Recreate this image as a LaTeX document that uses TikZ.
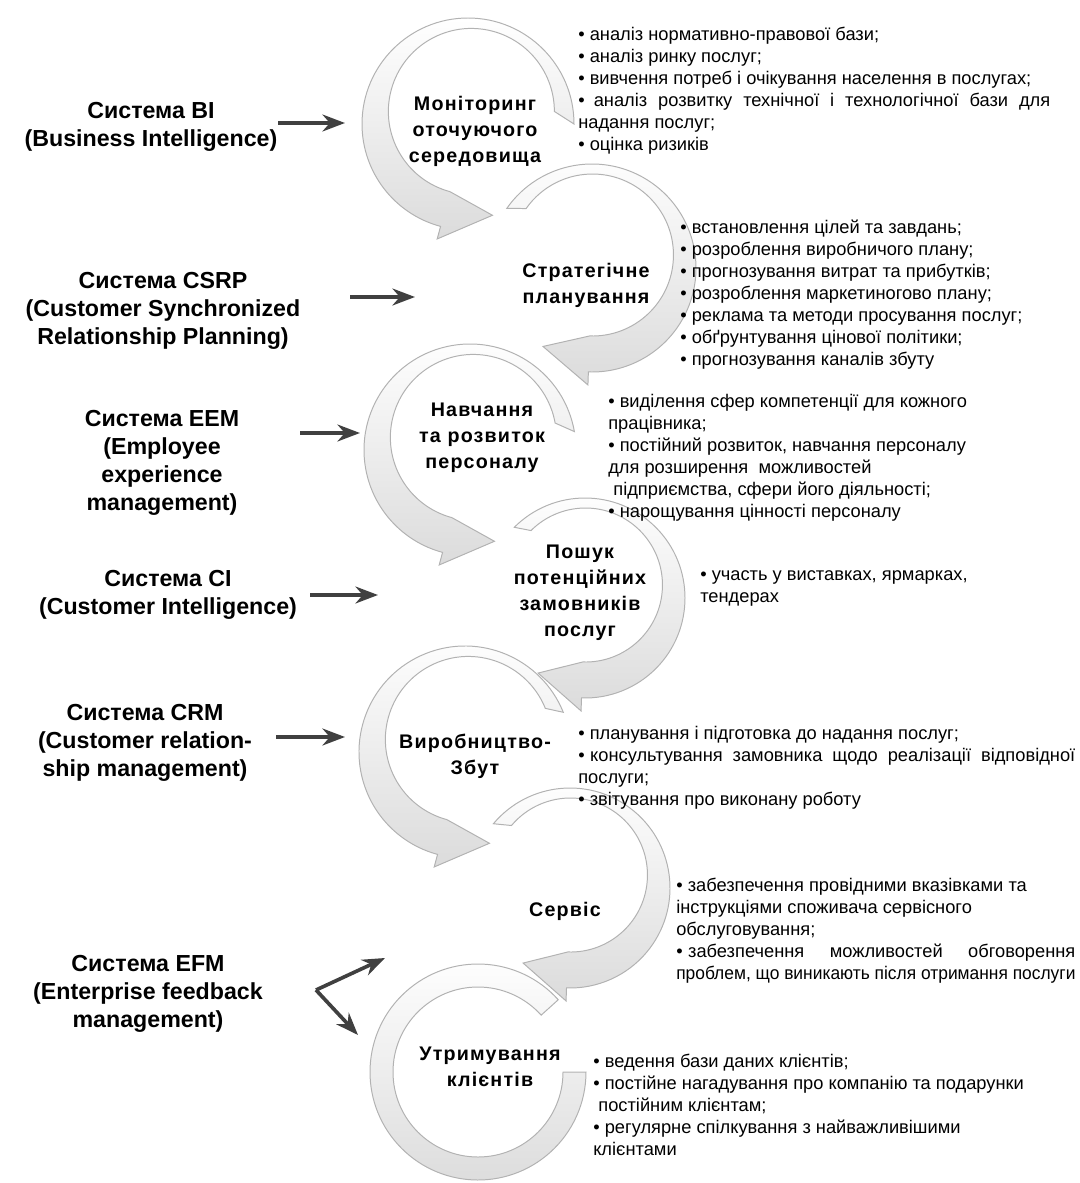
\documentclass[tikz,border=0pt]{standalone}
\usepackage{fontspec}
\setmainfont{Liberation Sans}
\newfontfamily\spacedfont[LetterSpace=6]{Liberation Sans}
\usetikzlibrary{positioning}
\usetikzlibrary{calc}
\usetikzlibrary{arrows.meta}

% curved stage arrow: centre, outer radius, inner radius, start, end, tip angle
\newcommand{\cyclearrow}[6]{%
  \path[ring] ($(#1)+(#4:#2)$) arc[start angle=#4, end angle=#5, radius=#2]
    -- ($(#1)+(#5:{#2+13})$) -- ($(#1)+(#6:{(#2+#3)/2})$) -- ($(#1)+(#5:{#3-13})$)
    arc[start angle=#5, end angle=#4, radius=#3] -- cycle;
}
\newcommand{\fitline}[2]{\makebox[#1][s]{#2}}
\newcommand{\squeezeline}[2]{\resizebox{#1}{\height}{#2}}

\begin{document}
\begin{tikzpicture}[x=0.025cm, y=0.025cm,
  system/.style={font=\bfseries\fontsize{16.5}{20}\selectfont, align=center, inner sep=0pt},
  stage/.style={font=\spacedfont\bfseries\fontsize{14}{18.5}\selectfont, align=center, inner sep=0pt},
  tasks/.style={font=\fontsize{13}{15.6}\selectfont, align=left, anchor=north west, inner sep=0pt},
  ring/.style={draw=gray!60, line width=0.7pt, top color=white, bottom color=gray!28},
  feed/.style={-{Stealth[length=16pt, width=12pt]}, line width=2.6pt, draw=black!75}]
  \useasboundingbox (0,0) rectangle (1079,-1183);
  % Centres
  \coordinate (c1) at (468,-124);
  \coordinate (c2) at (592,-268);
  \coordinate (c3) at (470,-450);
  \coordinate (c4) at (585,-598);
  \coordinate (c5) at (465,-752);
  \coordinate (c6) at (570,-888);
  \coordinate (c7) at (478,-1072);
  % Rings
  \cyclearrow{c1}{106}{83}{0}{255}{285}
  \cyclearrow{c2}{104}{81}{145}{-92}{-122}
  \cyclearrow{c3}{106}{83}{10}{255}{285}
  \cyclearrow{c4}{100}{77}{135}{-92}{-122}
  \cyclearrow{c5}{106}{83}{22}{255}{285}
  \cyclearrow{c6}{100}{77}{140}{-92}{-122}
  \path[ring] ($(c7)+(42:108)$) arc[start angle=42, end angle=360, radius=108]
    -- ($(c7)+(360:85)$) arc[start angle=360, end angle=42, radius=85] -- cycle;
  % Systems
  \node[system] (bi) at (151,-127) {Система BI\\(Business Intelligence)};
  \node[system] (csrp) at (163,-311) {Система CSRP\\(Customer Synchronized\\Relationship Planning)};
  \node[system] (eem) at (162,-463) {Система EEM\\(Employee\\experience\\management)};
  \node[system] (ci) at (168,-595) {Система CI\\(Customer Intelligence)};
  \node[system] (crm) at (145,-743) {Система CRM\\(Customer relation-\\ship management)};
  \node[system] (efm) at (148,-994) {Система EFM\\(Enterprise feedback\\management)};
  % Stages
  \node[stage] (monitor) at (475,-131) {Моніторинг\\оточуючого\\середовища};
  \node[stage] (plan) at (586,-285) {Стратегічне\\планування};
  \node[stage] (train) at (482,-438) {Навчання\\та розвиток\\персоналу};
  \node[stage] (search) at (580,-593) {Пошук\\потенційних\\замовників\\послуг};
  \node[stage] (sales) at (475,-756) {Виробництво-\\Збут};
  \node[stage] (service) at (565,-911) {Сервіс};
  \node[stage] (keep) at (490,-1067) {Утримування\\клієнтів};
  % Tasks
  \node[tasks] (monitor-tasks) at (578,-27) {• аналіз нормативно-правової бази;\\
    •\ аналіз ринку послуг;\\
    • вивчення потреб і очікування населення в послугах;\\
    \fitline{11.8cm}{•\hspace{0.5em}аналіз розвитку технічної і технологічної бази для}\\
    надання послуг;\\
    • оцінка ризиків};
  \node[tasks] (plan-tasks) at (680,-220) {• встановлення цілей та завдань;\\
    • розроблення виробничого плану;\\
    •\ прогнозування витрат та прибутків;\\
    • розроблення маркетиногово плану;\\
    • реклама та методи просування послуг;\\
    • обґрунтування цінової політики;\\
    • прогнозування каналів збуту};
  \node[tasks] (train-tasks) at (608,-394) {• виділення сфер компетенції для кожного\\
    працівника;\\
    • постійний розвиток, навчання персоналу\\
    для розширення\ \ можливостей\\
    \ підприємства, сфери його діяльності;\\
    • нарощування цінності персоналу};
  \node[tasks] (search-tasks) at (700,-570) {•\ участь у виставках, ярмарках,\\
    тендерах};
  \node[tasks] (sales-tasks) at (578,-726) {• планування і підготовка до надання послуг;\\
    \fitline{12.425cm}{•\hspace{0.3em}консультування замовника щодо реалізації відповідної}\\
    послуги;\\
    • звітування про виконану роботу};
  \node[tasks] (service-tasks) at (676,-878) {• забезпечення провідними вказівками та\\
    інструкціями споживача сервісного\\
    обслуговування;\\
    \fitline{9.975cm}{•\hspace{0.3em}забезпечення можливостей обговорення}\\
    \squeezeline{9.975cm}{проблем, що виникають після отримання послуги}};
  \node[tasks] (keep-tasks) at (593,-1054) {• ведення бази даних клієнтів;\\
    • постійне нагадування про компанію та подарунки\\
    \ постійним клієнтам;\\
    • регулярне спілкування з найважливішими\\
    клієнтами};
  % Arrows
  \coordinate (bi-out) at (278,-123);   \coordinate (bi-in) at (345,-123);
  \coordinate (csrp-out) at (350,-297); \coordinate (csrp-in) at (415,-297);
  \coordinate (eem-out) at (300,-433);  \coordinate (eem-in) at (360,-433);
  \coordinate (ci-out) at (310,-595);   \coordinate (ci-in) at (378,-595);
  \coordinate (crm-out) at (276,-737);  \coordinate (crm-in) at (345,-737);
  \coordinate (efm-out) at (316,-990);
  \coordinate (efm-up) at (385,-958);   \coordinate (efm-down) at (358,-1035);
  \draw[feed] (bi-out) -- (bi-in);
  \draw[feed] (csrp-out) -- (csrp-in);
  \draw[feed] (eem-out) -- (eem-in);
  \draw[feed] (ci-out) -- (ci-in);
  \draw[feed] (crm-out) -- (crm-in);
  \draw[feed] (efm-out) -- (efm-up);
  \draw[feed] (efm-out) -- (efm-down);
\end{tikzpicture}
\end{document}
